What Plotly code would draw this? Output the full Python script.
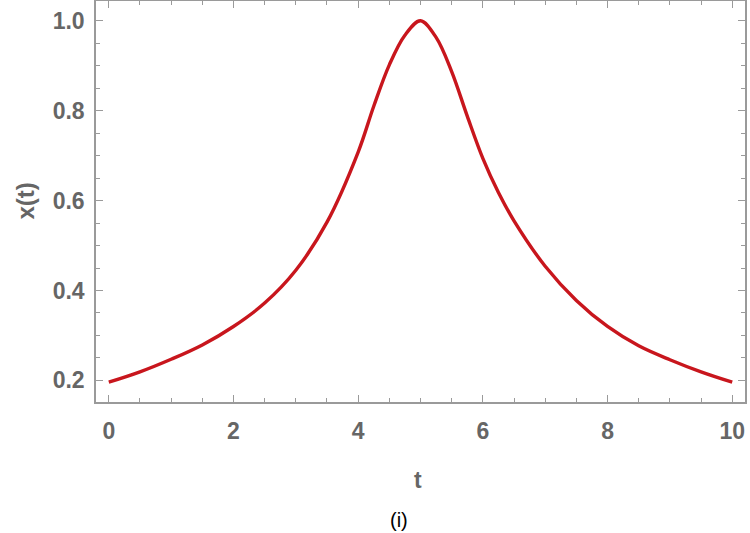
import plotly.graph_objects as go

# Values
t_values = [0.0, 0.5, 1.0, 1.5, 2.0, 2.5, 3.0, 3.5, 4.0, 4.25, 4.5, 4.75, 5.0,
            5.25, 5.5, 5.75, 6.0, 6.25, 6.5, 7.0, 7.5, 8.0, 8.5, 9.0, 9.5, 10.0]
x_values = [0.196, 0.219, 0.247, 0.279, 0.320, 0.372, 0.445, 0.552, 0.708, 0.810, 0.902, 0.968, 1.0,
            0.963, 0.887, 0.788, 0.694, 0.618, 0.555, 0.454, 0.378, 0.320, 0.277, 0.246, 0.219, 0.196]

x_ticks = [0, 2, 4, 6, 8, 10]
y_ticks = [0.2, 0.4, 0.6, 0.8, 1.0]
y_tick_labels = ["0.2", "0.4", "0.6", "0.8", "1.0"]

axis_gray = "#9a9a9a"
label_gray = "#666666"
tick_font = dict(family="Liberation Sans, Arial, sans-serif", size=23, color=label_gray)

fig = go.Figure()
fig.add_trace(go.Scatter(
    x=t_values, y=x_values, mode="lines",
    line=dict(color="#c8161d", width=3.4, shape="spline", smoothing=1.0),
    hoverinfo="skip", showlegend=False,
))

fig.update_layout(
    width=750, height=533,
    margin=dict(l=96, r=5, t=1, b=131, autoexpand=False),
    paper_bgcolor="white", plot_bgcolor="white",
    showlegend=False,
)

fig.update_xaxes(
    range=[-0.205, 10.205], tickmode="array", tickvals=x_ticks,
    ticktext=[f"<b>{v}</b>" for v in x_ticks],
    ticks="inside", ticklen=7, tickwidth=1, tickcolor=axis_gray,
    minor=dict(dtick=0.5, tick0=0, ticks="inside", ticklen=4, tickwidth=1, tickcolor=axis_gray),
    showline=True, linecolor=axis_gray, linewidth=1.5, mirror="ticks",
    showgrid=False, zeroline=False, tickfont=tick_font, ticklabelstandoff=8,
    automargin=False,
)
fig.update_yaxes(
    range=[0.152, 1.044], tickmode="array", tickvals=y_ticks,
    ticktext=[f"<b>{v}</b>" for v in y_tick_labels],
    ticks="inside", ticklen=7, tickwidth=1, tickcolor=axis_gray,
    minor=dict(dtick=0.05, tick0=0, ticks="inside", ticklen=4, tickwidth=1, tickcolor=axis_gray),
    showline=True, linecolor=axis_gray, linewidth=1.5, mirror="ticks",
    showgrid=False, zeroline=False, tickfont=tick_font, ticklabelstandoff=5,
    automargin=False,
)

fig.add_annotation(
    text="<b>x(t)</b>", xref="paper", yref="paper", x=(25 - 96) / 649, y=0.5,
    xanchor="center", yanchor="middle", textangle=-90, showarrow=False,
    font=dict(family="Liberation Sans, Arial, sans-serif", size=24, color=label_gray),
)
fig.add_annotation(
    text="<b>t</b>", xref="paper", yref="paper", x=(418 - 96) / 649, y=(402 - 480) / 401,
    xanchor="center", yanchor="middle", showarrow=False,
    font=dict(family="Liberation Sans, Arial, sans-serif", size=23, color=label_gray),
)
fig.add_annotation(
    text="(i)", xref="paper", yref="paper", x=(399 - 96) / 649, y=(402 - 520) / 401,
    xanchor="center", yanchor="middle", showarrow=False,
    font=dict(family="Liberation Sans Narrow, Liberation Sans, Arial, sans-serif", size=20, color="black"),
)

fig.write_html("out.html", config={"displayModeBar": False},
               post_script="document.body.style.margin='0px';")
